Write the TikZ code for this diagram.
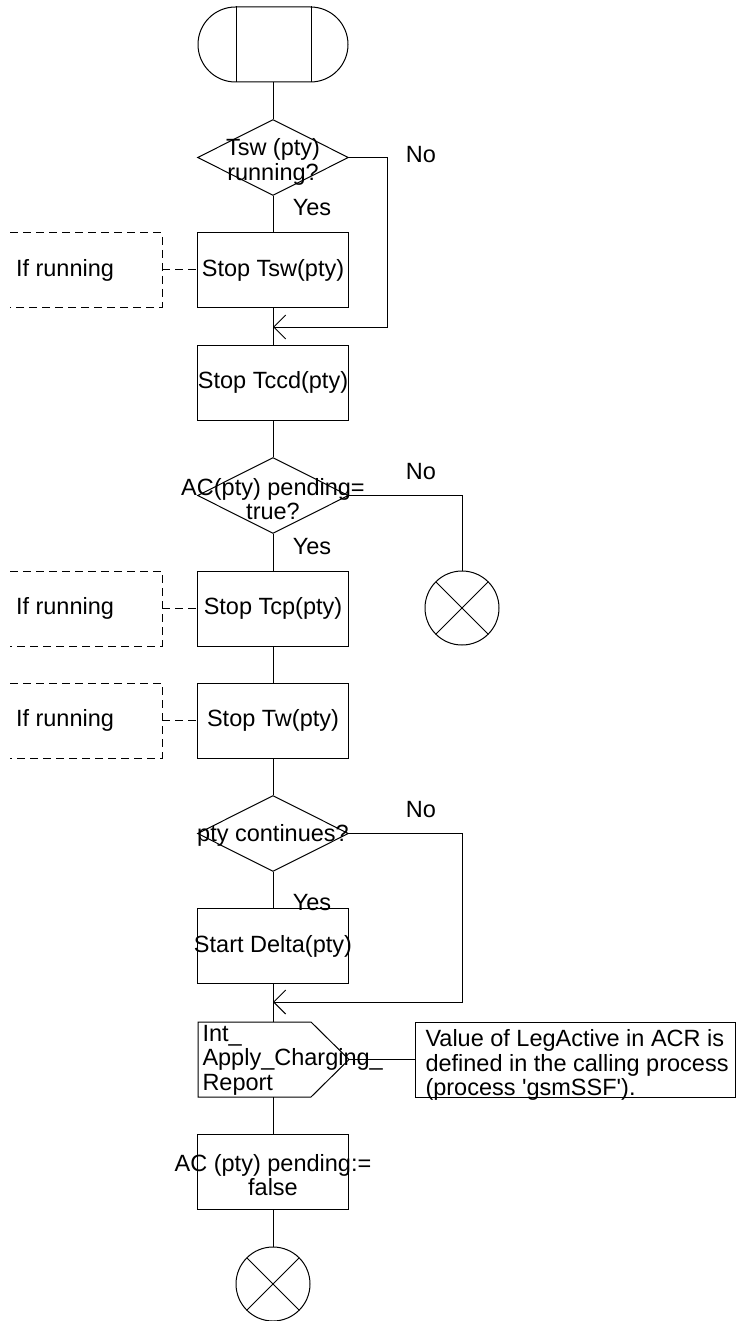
\documentclass[tikz,border=0pt]{standalone}
\usepackage{fontspec}
\setmainfont{Liberation Sans}
\usetikzlibrary{shapes.geometric,shapes.misc,arrows.meta}
\begin{document}
\begin{tikzpicture}[x=1pt,y=-1pt, line width=1pt,
  font=\fontsize{23.5}{24.5}\selectfont,
  stepbox/.style={draw, rectangle, minimum width=151pt, minimum height=75pt, inner sep=0pt},
  dec/.style={draw, diamond, minimum width=151pt, minimum height=76pt, inner sep=0pt},
  stopc/.style={draw, circle, minimum size=74pt, inner sep=0pt},
  lbl/.style={inner sep=0pt},
  cmt/.style={dash pattern=on 8pt off 5pt},
  arr/.style={-{Straight Barb[length=12pt,width=24pt]}}
]
\useasboundingbox (0,0) rectangle (736,1321);

% start terminal
\node[draw, rounded rectangle, minimum width=150pt, minimum height=75pt, inner sep=0pt] (start) at (273,44.5) {};
\draw ([xshift=-37pt]start.north) -- ([xshift=-37pt]start.south);
\draw ([xshift=38pt]start.north) -- ([xshift=38pt]start.south);

% decision 1
\node[dec] (d1) at (273,157.5) {};
\node[lbl, align=center] (d1t) at (273,162) {Tsw (pty)\\running?};
\node[lbl] (yes1) at (312,208) {Yes};
\node[lbl] (no1) at (421,155) {No};

% Stop Tsw
\node[stepbox] (tsw) at (273,270) {\makebox[0pt]{Stop Tsw(pty)}};
\draw[cmt] (10,233) -- (162,233) -- (162,307) -- (10,307);
\node[lbl] (ir1) at (65,270) {If running};
\coordinate (c1) at (162,270);
\draw[cmt] (c1) -- (tsw.west);

\coordinate (j1) at (273,327);
\coordinate (n1) at (387,327);

% Stop Tccd
\node[stepbox] (tccd) at (273,382.5) {\makebox[0pt]{Stop Tccd(pty)}};

% decision 2
\node[dec] (d2) at (273,495.5) {};
\node[lbl, align=center] (d2t) at (273,499) {AC(pty) pending=\\true?};
\node[lbl] (yes2) at (312,547) {Yes};
\node[lbl] (no2) at (421,472) {No};
\node[stopc] (x1) at (462,608) {};
\draw ([shift={(-26.2pt,-26.2pt)}]x1.center) -- ([shift={(26.2pt,26.2pt)}]x1.center);
\draw ([shift={(-26.2pt,26.2pt)}]x1.center) -- ([shift={(26.2pt,-26.2pt)}]x1.center);

% Stop Tcp
\node[stepbox] (tcp) at (273,608.5) {\makebox[0pt]{Stop Tcp(pty)}};
\draw[cmt] (10,571) -- (162,571) -- (162,646) -- (10,646);
\node[lbl] (ir2) at (65,608.5) {If running};
\coordinate (c2) at (162,608.5);
\draw[cmt] (c2) -- (tcp.west);

% Stop Tw
\node[stepbox] (tw) at (273,720.5) {\makebox[0pt]{Stop Tw(pty)}};
\draw[cmt] (10,683) -- (162,683) -- (162,758) -- (10,758);
\node[lbl] (ir3) at (65,720.5) {If running};
\coordinate (c3) at (162,720.5);
\draw[cmt] (c3) -- (tw.west);

% decision 3
\node[dec] (d3) at (273,833.5) {};
\node[lbl] (d3t) at (273,835) {pty continues?};
\node[lbl] (yes3) at (312,903) {Yes};
\node[lbl] (no3) at (421,810) {No};

% Start Delta
\node[stepbox] (delta) at (273,946) {\makebox[0pt]{Start Delta(pty)}};

\coordinate (j2) at (273,1002);
\coordinate (n3) at (462,1002);

% output signal
\coordinate (sigtop) at (273,1022);
\coordinate (sigtip) at (349,1059.5);
\coordinate (sigbot) at (273,1097);
\draw (198,1022) -- (311,1022) -- (sigtip) -- (311,1097) -- (198,1097) -- cycle;
\node[lbl, anchor=west, align=left] (sigt) at (202,1060) {Int\_\\Apply\_Charging\_\\Report};

% comment
\node[draw, rectangle, minimum width=320pt, minimum height=75pt, inner sep=0pt] (note) at (575,1059.5) {};
\node[lbl, anchor=west, align=left] (notet) at (425,1065) {Value of LegActive in ACR is\\defined in the calling process\\(process \textquotesingle gsmSSF\textquotesingle).};
\draw (sigtip) -- (note.west);

% AC pending false
\node[stepbox] (acf) at (273,1171.5) {};
\node[lbl, align=center] (acft) at (273,1175) {AC (pty) pending:=\\false};

% end
\node[stopc] (x2) at (273,1284) {};
\draw ([shift={(-26.2pt,-26.2pt)}]x2.center) -- ([shift={(26.2pt,26.2pt)}]x2.center);
\draw ([shift={(-26.2pt,26.2pt)}]x2.center) -- ([shift={(26.2pt,-26.2pt)}]x2.center);

% main flow
\draw (start.south) -- (d1.north);
\draw (d1.south) -- (tsw.north);
\draw (tsw.south) -- (tccd.north);
\draw (tccd.south) -- (d2.north);
\draw (d2.south) -- (tcp.north);
\draw (tcp.south) -- (tw.north);
\draw (tw.south) -- (d3.north);
\draw (d3.south) -- (delta.north);
\draw (delta.south) -- (sigtop);
\draw (sigbot) -- (acf.north);
\draw (acf.south) -- (x2.north);

% no branches
\draw[arr] (d1.east) -| (n1) -- (j1);
\draw (d2.east) -| (x1.north);
\draw[arr] (d3.east) -| (n3) -- (j2);
\end{tikzpicture}
\end{document}
